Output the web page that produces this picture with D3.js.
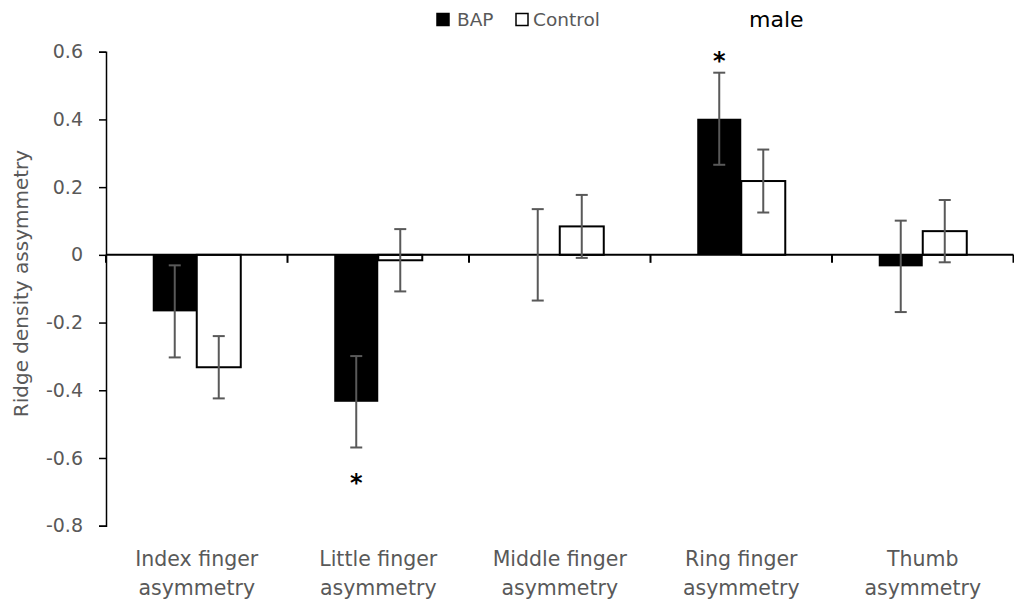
<!DOCTYPE html>
<html>
<head>
<meta charset="utf-8">
<script src="https://cdn.jsdelivr.net/npm/d3@7"></script>
<style>
  html, body { margin: 0; padding: 0; background: #fff; }
  svg { display: block; }
  text { font-family: "DejaVu Sans", Verdana, sans-serif; }
</style>
</head>
<body>
<svg id="chart" width="1014" height="608"></svg>
<script>
// ---- data ----
const categories = [
  ["Index finger", "asymmetry"],
  ["Little finger", "asymmetry"],
  ["Middle finger", "asymmetry"],
  ["Ring finger", "asymmetry"],
  ["Thumb", "asymmetry"]
];
const seriesNames = ["BAP", "Control"];
const bapValues = [-0.167, -0.434, 0.0, 0.402, -0.034];
const bapErrors = [0.136, 0.135, 0.135, 0.136, 0.135];
const controlValues = [-0.332, -0.016, 0.084, 0.218, 0.070];
const controlErrors = [0.092, 0.092, 0.093, 0.093, 0.092];
const significant = [false, true, false, true, false]; // BAP significance stars
const yTickValues = [-0.8, -0.6, -0.4, -0.2, 0, 0.2, 0.4, 0.6];
const yTickLabels = ["-0.8", "-0.6", "-0.4", "-0.2", "0", "0.2", "0.4", "0.6"];
const chartTitle = "male";
const yTitle = "Ridge density assymmetry";

// ---- layout ----
const svg = d3.select("#chart");
const plotLeft = 106, plotRight = 1013.5, plotTop = 51.7, plotBottom = 525.7;
const gray = "#595959";

const catKeys = categories.map(c => c.join(" "));
const x0 = d3.scaleBand().domain(catKeys).range([plotLeft, plotRight])
  .paddingInner(0.515).paddingOuter(0.2575);
const x1 = d3.scaleBand().domain(seriesNames).range([0, x0.bandwidth()]);
const y = d3.scaleLinear().domain([-0.8, 0.6]).range([plotBottom, plotTop]);

const series = [
  { name: "BAP", values: bapValues, errors: bapErrors, fill: "#000", stroke: "#000" },
  { name: "Control", values: controlValues, errors: controlErrors, fill: "#fff", stroke: "#000" }
];

// bars
series.forEach(s => {
  svg.append("g").selectAll("rect").data(s.values).join("rect")
    .attr("x", (d, i) => x0(catKeys[i]) + x1(s.name))
    .attr("width", x1.bandwidth())
    .attr("y", d => Math.min(y(d), y(0)))
    .attr("height", d => Math.abs(y(d) - y(0)))
    .attr("fill", s.fill)
    .attr("stroke", s.stroke)
    .attr("stroke-width", s.name === "Control" ? 2 : 0);
});

// y axis
const yAxis = d3.axisLeft(y).tickValues(yTickValues).tickSize(7).tickPadding(16)
  .tickFormat((d, i) => yTickLabels[i]);
const gy = svg.append("g").attr("transform", `translate(${plotLeft},0)`).call(yAxis);
gy.select(".domain").attr("stroke", "#000").attr("stroke-width", 1.5);
gy.selectAll(".tick line").attr("stroke", "#000").attr("stroke-width", 1.5);
gy.selectAll(".tick text").attr("fill", gray).style("font-size", "19px")
  .style("font-family", "'DejaVu Sans', Verdana, sans-serif");

// zero line with category ticks
const step = x0.step();
const boundaries = d3.range(categories.length + 1).map(k => plotLeft + k * step);
svg.append("line").attr("x1", plotLeft).attr("x2", plotRight)
  .attr("y1", y(0)).attr("y2", y(0))
  .attr("stroke", "#000").attr("stroke-width", 2);
svg.append("g").selectAll("line").data(boundaries).join("line")
  .attr("x1", d => d).attr("x2", d => d)
  .attr("y1", y(0)).attr("y2", y(0) + 8)
  .attr("stroke", "#000").attr("stroke-width", 2);

// error bars
const capHalf = 6;
series.forEach(s => {
  const g = svg.append("g").attr("stroke", gray).attr("stroke-width", 2);
  s.values.forEach((v, i) => {
    const cx = x0(catKeys[i]) + x1(s.name) + x1.bandwidth() / 2;
    const hi = y(v + s.errors[i]), lo = y(v - s.errors[i]);
    g.append("line").attr("x1", cx).attr("x2", cx).attr("y1", hi).attr("y2", lo);
    g.append("line").attr("x1", cx - capHalf).attr("x2", cx + capHalf).attr("y1", hi).attr("y2", hi);
    g.append("line").attr("x1", cx - capHalf).attr("x2", cx + capHalf).attr("y1", lo).attr("y2", lo);
  });
});

// significance stars
bapValues.forEach((v, i) => {
  if (!significant[i]) return;
  const cx = x0(catKeys[i]) + x1("BAP") + x1.bandwidth() / 2;
  const ypos = v >= 0 ? y(v + bapErrors[i]) - 14 : y(v - bapErrors[i]) + 34;
  svg.append("text").attr("x", cx).attr("y", ypos + 10)
    .attr("text-anchor", "middle").attr("fill", "#000")
    .style("font-size", "24px").style("font-weight", "bold").text("*");
});

// category labels
const catG = svg.append("g");
categories.forEach((lines, i) => {
  const cx = x0(catKeys[i]) + x0.bandwidth() / 2;
  lines.forEach((ln, j) => {
    catG.append("text").attr("x", cx).attr("y", 566 + j * 29)
      .attr("text-anchor", "middle").attr("fill", gray)
      .style("font-size", "20.5px").text(ln);
  });
});

// y title
svg.append("text").attr("transform", `translate(28,${(147 + 420) / 2}) rotate(-90)`)
  .attr("text-anchor", "middle").attr("fill", gray)
  .style("font-size", "20px").text(yTitle);

// legend
const legend = svg.append("g");
const legendItems = [
  { name: "BAP", x: 437, fill: "#000", textX: 457 },
  { name: "Control", x: 516, fill: "#fff", textX: 533 }
];
legend.selectAll("rect").data(legendItems).join("rect")
  .attr("x", d => d.x).attr("y", 13.5).attr("width", 12).attr("height", 12)
  .attr("fill", d => d.fill).attr("stroke", "#000").attr("stroke-width", 1.5);
legend.selectAll("text").data(legendItems).join("text")
  .attr("x", d => d.textX).attr("y", 26)
  .attr("fill", gray).style("font-size", "18.5px").text(d => d.name);

// title
svg.append("text").attr("x", 749).attr("y", 27).attr("fill", "#000")
  .style("font-size", "22px").text(chartTitle);
</script>
</body>
</html>
